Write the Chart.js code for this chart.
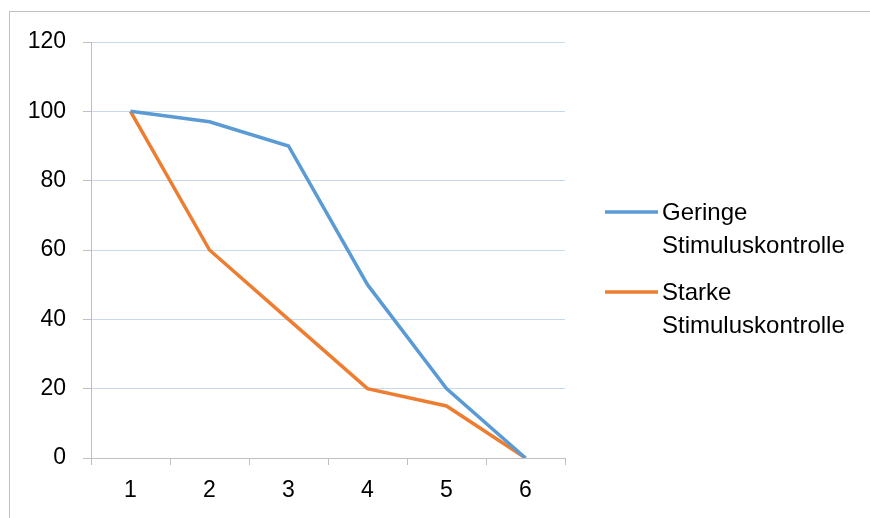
<!DOCTYPE html>
<html>
<head>
<meta charset="utf-8">
<script src="https://cdn.jsdelivr.net/npm/chart.js@4/dist/chart.umd.min.js"></script>
<style>
  html, body { margin: 0; padding: 0; background: #fff; overflow: hidden; }
  #frame { position: absolute; left: 9px; top: 11px; width: 900px; height: 600px;
           border-top: 1px solid #bfbfbf; border-left: 1px solid #bfbfbf; box-sizing: border-box; }
  #wrap { position: absolute; left: 0; top: 0; width: 870px; height: 518px; }
</style>
</head>
<body>
<div id="frame"></div>
<div id="wrap"><canvas id="chart" width="870" height="518"></canvas></div>
<script>
// Trial steps on the x axis
const categories = ['1', '2', '3', '4', '5', '6'];
// Response rates (%) per step
const geringeValues = [100, 97, 90, 50, 20, 0];
const starkeValues = [100, 60, 40, 20, 15, 0];
// Legend labels, broken over two lines
const geringeLabel = ['Geringe', 'Stimuluskontrolle'];
const starkeLabel = ['Starke', 'Stimuluskontrolle'];

const FONT = "'Liberation Sans', Arial, sans-serif";
const FONT_SIZE = 23;
const LINE_W = 3.5;

// Draws the legend to the right of the plot: a short line swatch and wrapped text
const sideLegend = {
  id: 'sideLegend',
  afterDraw(chart) {
    const ctx = chart.ctx;
    const x0 = 605, x1 = 658, tx = 662;
    const rows = [212, 292];
    const lineH = 33;
    ctx.save();
    ctx.font = '24px ' + FONT;
    ctx.textBaseline = 'middle';
    ctx.textAlign = 'left';
    chart.data.datasets.forEach((ds, i) => {
      const y = rows[i];
      ctx.strokeStyle = ds.borderColor;
      ctx.lineWidth = LINE_W;
      ctx.lineCap = 'butt';
      ctx.beginPath();
      ctx.moveTo(x0, y);
      ctx.lineTo(x1, y);
      ctx.stroke();
      ctx.fillStyle = '#000';
      ds.label.forEach((t, k) => ctx.fillText(t, tx, y + 1 + k * lineH));
    });
    ctx.restore();
  }
};

new Chart(document.getElementById('chart'), {
  type: 'line',
  data: {
    labels: categories,
    datasets: [
      { label: geringeLabel, data: geringeValues, borderColor: '#5b9bd5', backgroundColor: '#5b9bd5',
        borderWidth: LINE_W, pointRadius: 0, tension: 0 },
      { label: starkeLabel, data: starkeValues, borderColor: '#ed7d31', backgroundColor: '#ed7d31',
        borderWidth: LINE_W, pointRadius: 0, tension: 0 }
    ]
  },
  options: {
    responsive: false,
    animation: false,
    layout: { padding: { left: 0, right: 305, top: 42, bottom: 0 } },
    plugins: { legend: { display: false }, tooltip: { enabled: false } },
    scales: {
      x: {
        offset: true,
        grid: { offset: true, drawOnChartArea: false, color: '#bfbfbf', tickColor: '#bfbfbf', tickLength: 7 },
        border: { color: '#bfbfbf', width: 1 },
        ticks: { color: '#000', font: { family: FONT, size: FONT_SIZE }, padding: 12, maxRotation: 0 },
        afterFit(s) { s.height = 60; }
      },
      y: {
        min: 0, max: 120,
        ticks: { stepSize: 20, color: '#000', font: { family: FONT, size: FONT_SIZE }, padding: 17 },
        grid: { color: '#c6d9f0', tickColor: '#bfbfbf', tickLength: 8, lineWidth: 1 },
        border: { color: '#bfbfbf', width: 1 },
        afterFit(s) { s.width = 91; }
      }
    }
  },
  plugins: [sideLegend]
});
</script>
</body>
</html>
